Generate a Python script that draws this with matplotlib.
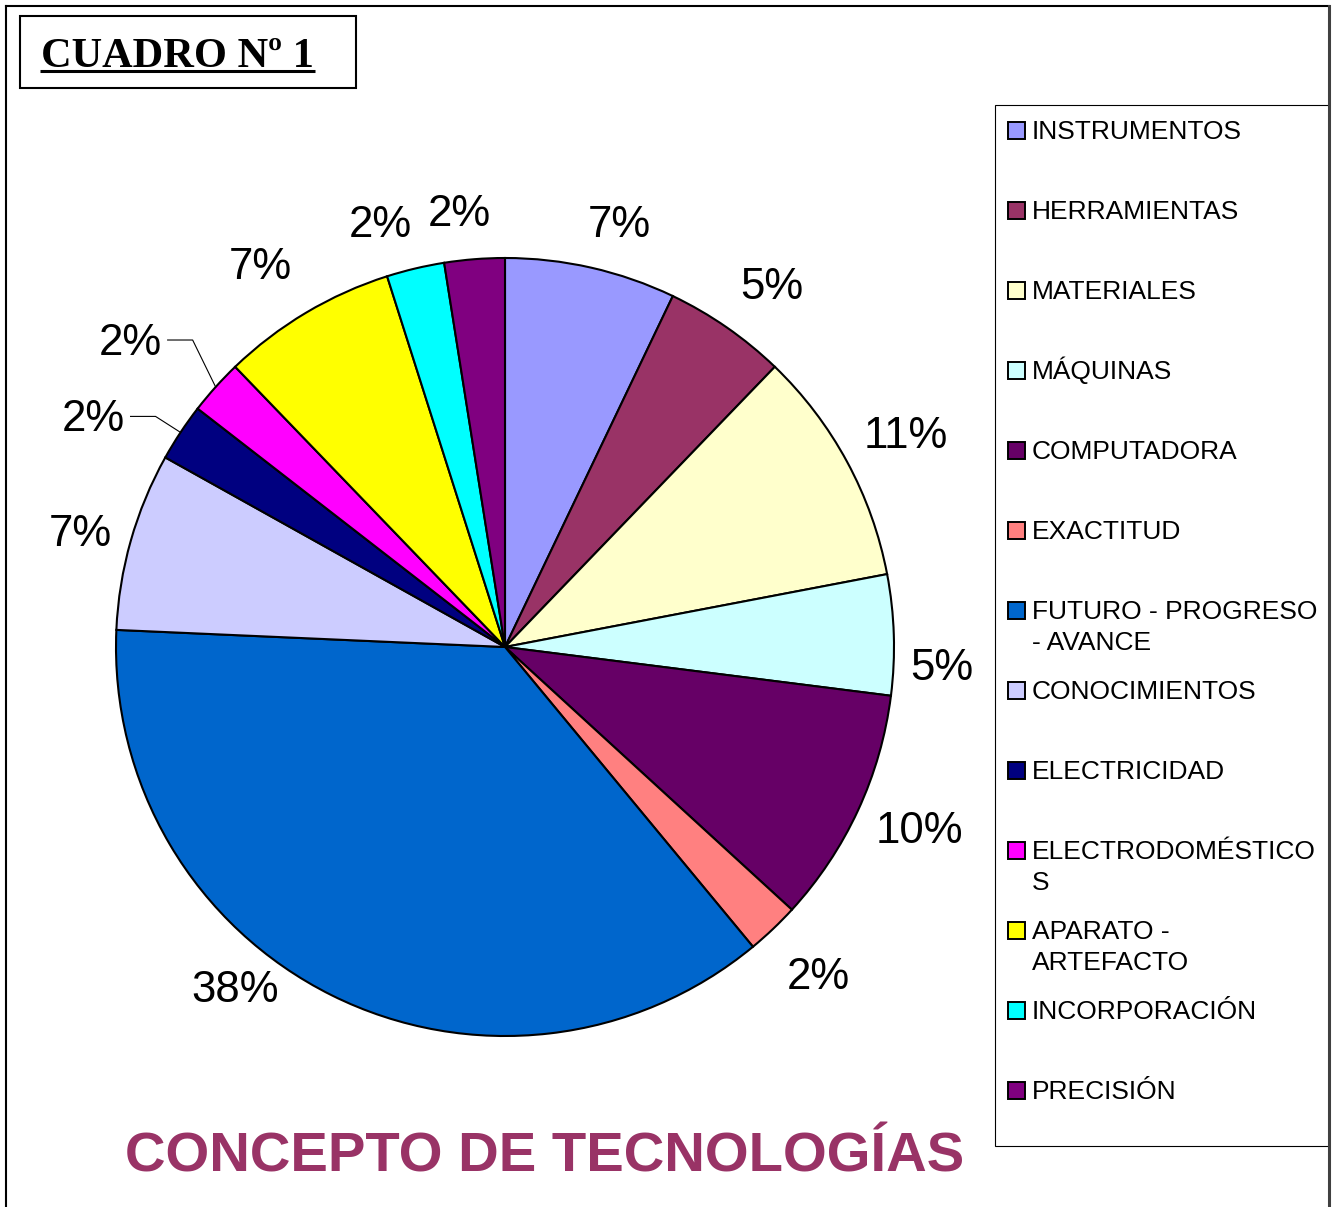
import matplotlib.pyplot as plt
from matplotlib.patches import Rectangle
import numpy as np

# --- data ---
categories = ["INSTRUMENTOS", "HERRAMIENTAS", "MATERIALES", "MÁQUINAS",
              "COMPUTADORA", "EXACTITUD", "FUTURO - PROGRESO - AVANCE",
              "CONOCIMIENTOS", "ELECTRICIDAD", "ELECTRODOMÉSTICOS",
              "APARATO - ARTEFACTO", "INCORPORACIÓN", "PRECISIÓN"]
# legend text wrapped the way the chart shows it
legend_labels = ["INSTRUMENTOS", "HERRAMIENTAS", "MATERIALES", "MÁQUINAS",
                 "COMPUTADORA", "EXACTITUD", "FUTURO - PROGRESO\n- AVANCE",
                 "CONOCIMIENTOS", "ELECTRICIDAD", "ELECTRODOMÉSTICO\nS",
                 "APARATO -\nARTEFACTO", "INCORPORACIÓN", "PRECISIÓN"]
# wedge sizes as drawn (share of the circle, %)
shares = [7.1, 5.1, 9.8, 5.0, 9.8, 2.2, 36.7, 7.4, 2.4, 2.3, 7.3, 2.4, 2.5]
# percentages printed next to the wedges
pct_labels = ["7%", "5%", "11%", "5%", "10%", "2%", "38%",
              "7%", "2%", "2%", "7%", "2%", "2%"]
colors = ["#9999FF", "#993366", "#FFFFCC", "#CCFFFF", "#660066", "#FF8080",
          "#0066CC", "#CCCCFF", "#000080", "#FF00FF", "#FFFF00", "#00FFFF",
          "#800080"]

# --- label placement (clockwise nudge in degrees, distance from centre in px) ---
label_nudge = [2.3, 1.6, 0.3, 4.2, -1.2, -0.2, 12.0, -0.5, -4.3, -3.0, -1.8, -3.0, -1.5]
label_dist = [440, 451, 454, 437, 452, 453, 434, 440, 474, 486, 454, 443, 438]
# labels drawn with a leader line: elbow offset from the wedge edge point
leaders = {8: (-25, 16), 9: (-23, 47)}

W, H = 1336, 1207
fig = plt.figure(figsize=(W / 100, H / 100), dpi=100)
ax = fig.add_axes([0, 0, 1, 1])


def Y(y):
    # picture rows (top = 0) -> axes units (bottom = 0)
    return H - y


cx, cy, R = 505, Y(647), 389
wedges, _ = ax.pie(shares, colors=colors, startangle=90, counterclock=False,
                   center=(cx, cy), radius=R,
                   wedgeprops=dict(edgecolor="black", linewidth=1.5))
ax.set_xlim(0, W)
ax.set_ylim(0, H)
ax.set_aspect("auto")
ax.axis("off")

sans = "Liberation Sans"
for i, (w, lab) in enumerate(zip(wedges, pct_labels)):
    mid = np.deg2rad((w.theta1 + w.theta2) / 2)
    if i in leaders:
        ex, ey = cx + R * np.cos(mid), cy + R * np.sin(mid)
        bx, by = ex + leaders[i][0], ey + leaders[i][1]
        ax.plot([bx - 25, bx, ex], [by, by, ey], color="black", lw=0.8)
        ax.text(bx - 31, by - 15, lab, ha="right", va="baseline",
                fontsize=31.5, family=sans)
        continue
    th = mid - np.deg2rad(label_nudge[i])
    x = cx + label_dist[i] * np.cos(th)
    y = cy + label_dist[i] * np.sin(th)
    ax.text(x, y - 15, lab, ha="center", va="baseline", fontsize=31.5, family=sans)

# --- legend ---
ax.add_patch(Rectangle((995, Y(1146)), 334, 1041, fill=False,
                       edgecolor="black", lw=0.8))
for k, (lab, col) in enumerate(zip(legend_labels, colors)):
    base = 139 + 80 * k
    ax.add_patch(Rectangle((1008, Y(base)), 17, 17, facecolor=col,
                           edgecolor="black", lw=1.4))
    for j, line in enumerate(lab.split("\n")):
        ax.text(1032, Y(base + 31 * j), line, ha="left", va="baseline",
                fontsize=19, family=sans)

# --- titles ---
ax.add_patch(Rectangle((20, Y(88)), 336, 72, fill=False, edgecolor="black", lw=1.5))
ax.text(41, Y(67), "CUADRO Nº 1", ha="left", va="baseline", fontsize=30.5,
        fontweight="bold", family="Liberation Serif")
ax.plot([40, 315], [Y(71), Y(71)], color="black", lw=2.2, solid_capstyle="butt")

ax.text(545, Y(1172), "CONCEPTO DE TECNOLOGÍAS", ha="center", va="baseline",
        fontsize=40.5, fontweight="bold", color="#993366", family=sans)

# --- outer frame ---
ax.plot([6, 6], [Y(1207), Y(6)], color="black", lw=1.5)
ax.plot([6, 1329], [Y(6), Y(6)], color="black", lw=1.5)
ax.plot([1329, 1329], [Y(6), Y(1207)], color="#404040", lw=2.2)

fig.savefig("out.png", dpi=100)
